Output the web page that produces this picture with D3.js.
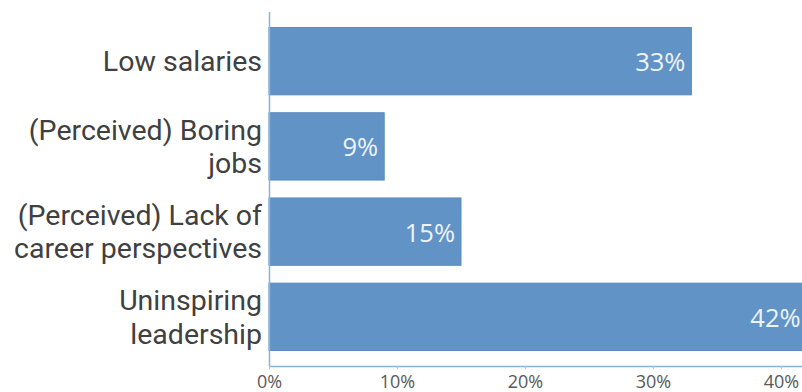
<!DOCTYPE html>
<html>
<head>
<meta charset="utf-8">
<script src="https://cdn.jsdelivr.net/npm/d3@7"></script>
<style>
  html, body { margin: 0; padding: 0; background: #fff; }
  svg { display: block; }
</style>
</head>
<body>
<svg id="chart" width="802" height="392"></svg>
<script>
// Reasons, top to bottom, each as its wrapped label lines
const categories = ["Low salaries", "(Perceived) Boring jobs", "(Perceived) Lack of career perspectives", "Uninspiring leadership"];
const labelLines = [["Low salaries"], ["(Perceived) Boring", "jobs"], ["(Perceived) Lack of", "career perspectives"], ["Uninspiring", "leadership"]];
const values = [33, 9, 15, 42];
const tickValues = [0, 10, 20, 30, 40];

const svg = d3.select("#chart");
const font = "'Open Sans', 'Noto Sans', sans-serif";
const labelFont = "Roboto, 'Open Sans', sans-serif";

const x0 = 269;
const x = d3.scaleLinear().domain([0, 40]).range([x0, x0 + 40 * 12.8]);
const y = d3.scaleBand().domain(categories).range([19, 359]).paddingInner(0.21).paddingOuter(0.1);

// Bars
svg.append("g").selectAll("rect")
  .data(categories)
  .join("rect")
  .attr("x", x(0))
  .attr("y", d => y(d))
  .attr("width", (d, i) => x(values[i]) - x(0))
  .attr("height", y.bandwidth())
  .attr("fill", "#6193c7")
  .attr("stroke", "#5a8bbf")
  .attr("stroke-width", 1);

// Value labels inside the bar ends
svg.append("g").selectAll("text")
  .data(categories)
  .join("text")
  .attr("x", (d, i) => x(values[i]) - 6)
  .attr("y", d => y(d) + y.bandwidth() / 2 + 10)
  .attr("text-anchor", "end")
  .attr("fill", "#eef3fa")
  .attr("font-family", font)
  .attr("font-size", 25.5)
  .text((d, i) => values[i] + "%");

// Category labels, one text per line
const lineH = 33.6;
const labels = svg.append("g")
  .attr("text-anchor", "end")
  .attr("fill", "#404040")
  .attr("font-family", labelFont)
  .attr("font-size", 28.5);
categories.forEach((d, i) => {
  const lines = labelLines[i];
  const cy = y(d) + y.bandwidth() / 2;
  const first = cy + 10 - (lines.length - 1) * lineH / 2;
  labels.selectAll(null)
    .data(lines)
    .join("text")
    .attr("x", 262)
    .attr("y", (t, j) => first + j * lineH)
    .text(t => t);
});

// Vertical category axis line
svg.append("line")
  .attr("x1", x0 + 0.5).attr("x2", x0 + 0.5)
  .attr("y1", 12).attr("y2", 366)
  .attr("stroke", "#8db3dd").attr("stroke-width", 1.5);

// Horizontal value axis
const xAxis = svg.append("g")
  .attr("transform", "translate(0,366)")
  .call(d3.axisBottom(x).tickValues(tickValues).tickFormat(d => d + "%").tickSize(3).tickSizeOuter(0));
xAxis.select(".domain").attr("stroke", "#8db3dd").attr("stroke-width", 1.5)
  .attr("d", `M${x0},0.5H802`);
xAxis.selectAll(".tick line").attr("stroke", "#a9c4e4");
xAxis.selectAll(".tick text")
  .attr("fill", "#595959")
  .attr("font-family", font)
  .attr("font-size", 18)
  .attr("dy", null)
  .attr("y", 22);
</script>
</body>
</html>
